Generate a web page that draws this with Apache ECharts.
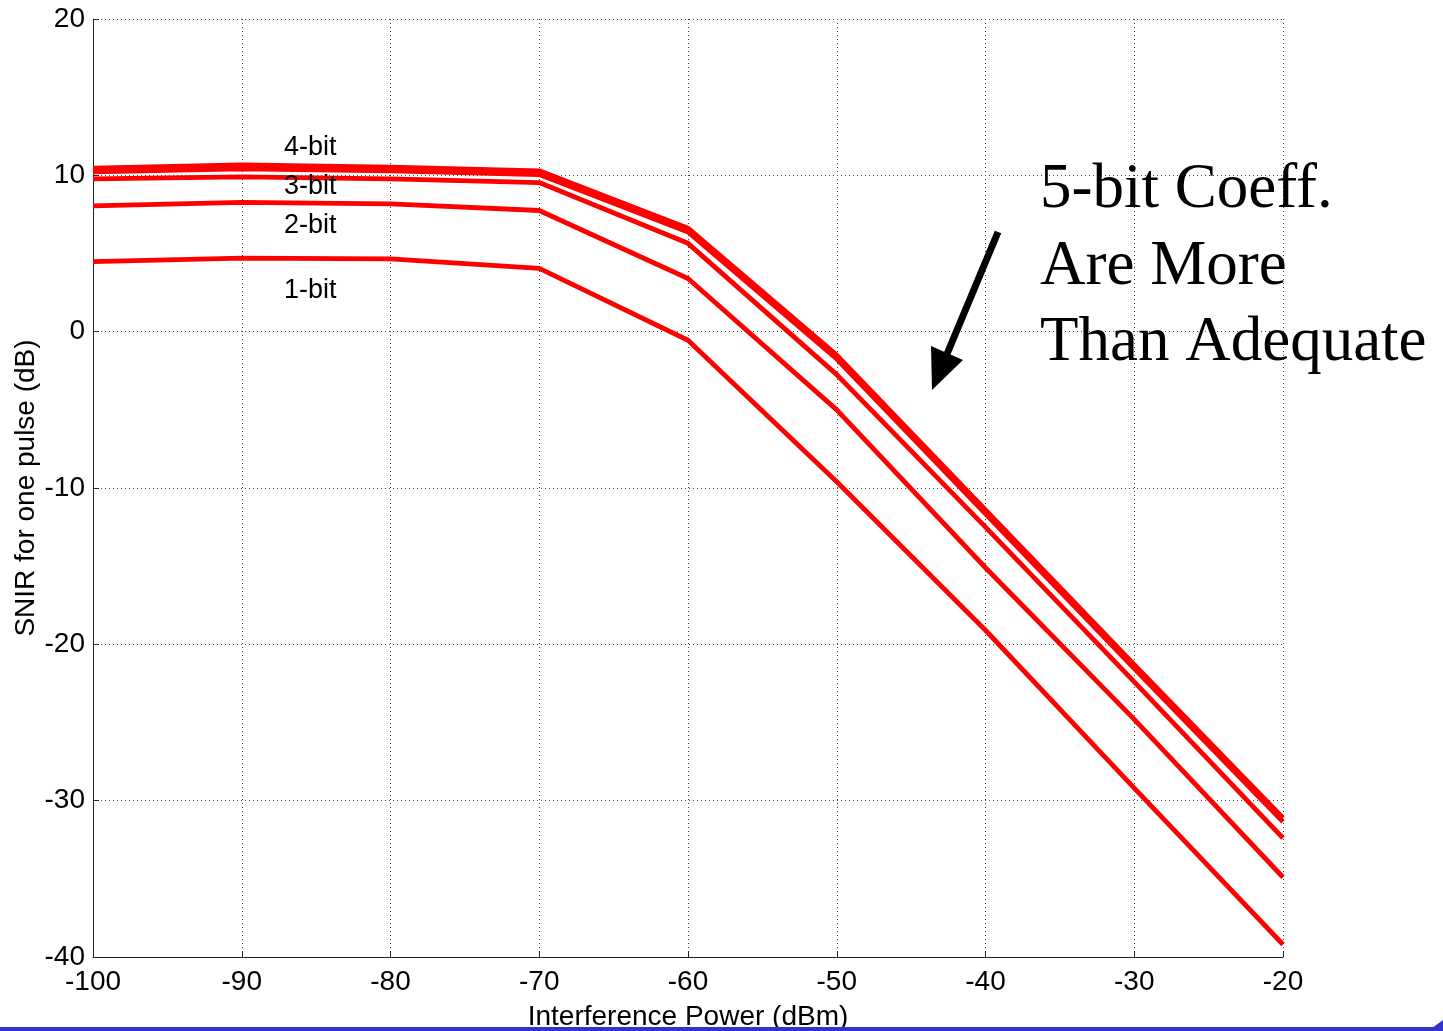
<!DOCTYPE html>
<html>
<head>
<meta charset="utf-8">
<script src="https://cdn.jsdelivr.net/npm/echarts@6/dist/echarts.min.js"></script>
<style>
html,body{margin:0;padding:0;background:#fff;overflow:hidden;}
#chart{width:1443px;height:1031px;}
</style>
</head>
<body>
<div id="chart"></div>
<script>
// Interference power (dBm)
var xVals = [-100, -90, -80, -70, -60, -50, -40, -30, -20];
// SNIR for one pulse (dB) per coefficient resolution
var bit1 = [4.48, 4.70, 4.65, 4.05, -0.55, -9.6, -19.1, -29.2, -39.2];
var bit2 = [8.04, 8.27, 8.17, 7.75, 3.40, -5.0, -15.1, -24.8, -34.9];
var bit3 = [9.77, 9.90, 9.77, 9.54, 5.65, -2.75, -12.5, -22.4, -32.4];
var bit4 = [10.22, 10.42, 10.28, 10.05, 6.38, -1.75, -11.65, -21.55, -31.35];
var bit5 = [10.46, 10.66, 10.52, 10.29, 6.62, -1.50, -11.40, -21.30, -31.10];
var seriesNames = ['1-bit', '2-bit', '3-bit', '4-bit', '5-bit'];
var lineLabels = ['4-bit', '3-bit', '2-bit', '1-bit'];
var annotationLines = ['5-bit Coeff.', 'Are More', 'Than Adequate'];
var xAxisTitle = 'Interference Power (dBm)';
var yAxisTitle = 'SNIR for one pulse (dB)';

function pairs(ys){ return xVals.map(function(x,i){ return [x, ys[i]]; }); }
var allSeries = [bit1, bit2, bit3, bit4, bit5];

var chart = echarts.init(document.getElementById('chart'), null, {renderer:'canvas', width:1443, height:1031});
var font = 'Liberation Sans, Arial, sans-serif';
var gridLine = {show:true, lineStyle:{color:'#444', width:1, type:[1,3]}};

var option = {
  animation:false,
  backgroundColor:'#ffffff',
  grid:{left:93, right:160, top:19, bottom:74, containLabel:false, outerBoundsMode:'none'},
  xAxis:{
    type:'value', min:-100, max:-20, interval:10,
    name:xAxisTitle, nameLocation:'middle', nameGap:46, nameMoveOverlap:false,
    nameTextStyle:{fontFamily:font, fontSize:28, color:'#000'},
    axisLine:{show:true, onZero:false, lineStyle:{color:'#222', width:1}},
    axisTick:{show:true, inside:true, length:6, lineStyle:{color:'#222'}},
    axisLabel:{fontFamily:font, fontSize:28, color:'#000', margin:11, showMinLabel:true, showMaxLabel:true},
    splitLine:gridLine
  },
  yAxis:{
    type:'value', min:-40, max:20, interval:10,
    name:yAxisTitle, nameLocation:'middle', nameGap:53, nameRotate:90, nameMoveOverlap:false,
    nameTextStyle:{fontFamily:font, fontSize:28, color:'#000'},
    axisLine:{show:true, onZero:false, lineStyle:{color:'#222', width:1}},
    axisTick:{show:true, inside:true, length:6, lineStyle:{color:'#222'}},
    axisLabel:{fontFamily:font, fontSize:28, color:'#000', margin:8, showMinLabel:true, showMaxLabel:true},
    splitLine:gridLine
  },
  series: allSeries.map(function(ys, i){
    return {
      name:seriesNames[i], type:'line', data:pairs(ys),
      showSymbol:false, symbol:'none', smooth:false,
      lineStyle:{color:'#ff0000', width:4.8}, z:3
    };
  }),
  graphic:[]
};
chart.setOption(option);

var g = [];
var labelY = [148, 187, 226, 291];
lineLabels.forEach(function(t, i){
  g.push({type:'text', x:284, y:labelY[i], z:10,
    style:{text:t, fill:'#000', font:'27px Liberation Sans, Arial, sans-serif', textVerticalAlign:'middle', textAlign:'left'}});
});
var annY = [190, 267, 343];
annotationLines.forEach(function(t, i){
  g.push({type:'text', x:1040, y:annY[i], z:10,
    style:{text:t, fill:'#000', font:'63px Liberation Serif, Times New Roman, serif', textVerticalAlign:'middle', textAlign:'left'}});
});
// arrow
g.push({type:'line', z:10, shape:{x1:998, y1:232, x2:947, y2:354}, style:{stroke:'#000', lineWidth:7}});
g.push({type:'polygon', z:10, shape:{points:[[932,390],[963,360],[931,346]]}, style:{fill:'#000'}});
// slide bottom bar
g.push({type:'rect', z:10, shape:{x:0, y:1027, width:1443, height:4}, style:{fill:'#3333cc'}});
g.push({type:'polygon', z:10, shape:{points:[[1428,1031],[1443,1020],[1443,1031]]}, style:{fill:'#3333cc'}});
chart.setOption({graphic:g});
</script>
</body>
</html>
